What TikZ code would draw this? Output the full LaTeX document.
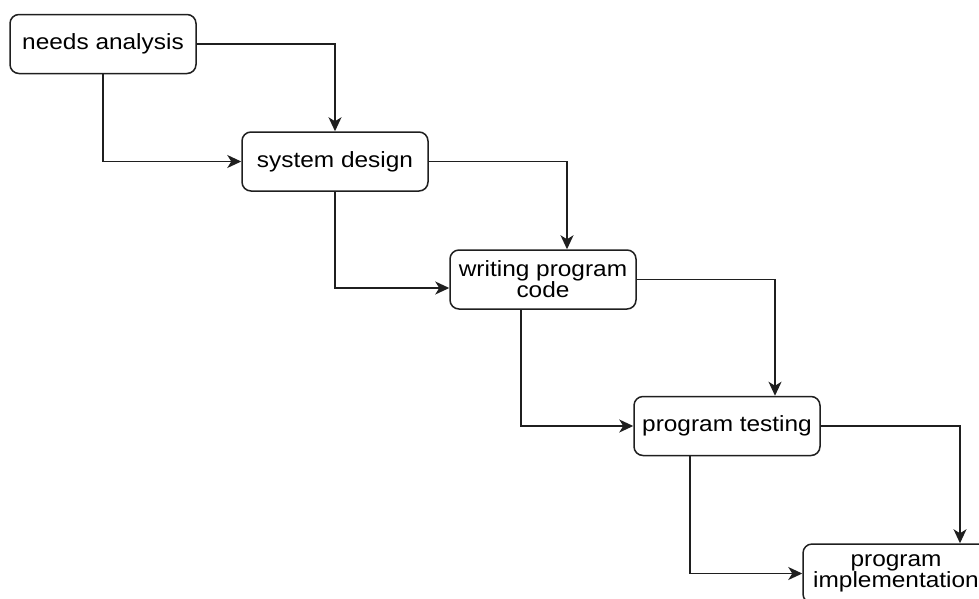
\documentclass[tikz,border=0pt]{standalone}
\usepackage{fontspec}
\setmainfont{Liberation Sans}[FakeStretch=1.11]
\usetikzlibrary{arrows.meta,calc}
\begin{document}
\begin{tikzpicture}[x=1pt,y=-1pt,
  box/.style={draw=black!88,line width=1.5pt,rounded corners=9pt,minimum width=186pt,minimum height=59pt,inner sep=0pt,align=center,font=\fontsize{22}{21}\selectfont},
  link/.style={draw=black!88,line width=1.5pt,-{Stealth[length=14pt,width=13pt,inset=4pt]}}]
\useasboundingbox (0,0) rectangle (979,598);
\clip (0,0) rectangle (979,598);
\node[box] (n1) at (103,44) {needs analysis};
\node[box] (n2) at (335,161.5) {system design};
\node[box] (n3) at (543,279.5) {writing program\\code};
\node[box,font=\fontsize{22}{19}\selectfont] (n5) at (896,573.5) {program\\implementation};
\node[box] (n4) at (727,426) {program testing};
\draw[link] (n1.east) -| (n2.north);
\draw[link] (n1.south) |- (n2.west);
\draw[link] (n2.east) -| ([xshift=24pt]n3.north);
\draw[link] (n2.south) |- ([yshift=-8.5pt]n3.west);
\draw[link] (n3.east) -| ([xshift=48pt]n4.north);
\draw[link] ([xshift=-22pt]n3.south) |- (n4.west);
\draw[link] (n4.east) -| ([xshift=64pt]n5.north);
\draw[link] ([xshift=-37pt]n4.south) |- (n5.west);
\end{tikzpicture}
\end{document}
